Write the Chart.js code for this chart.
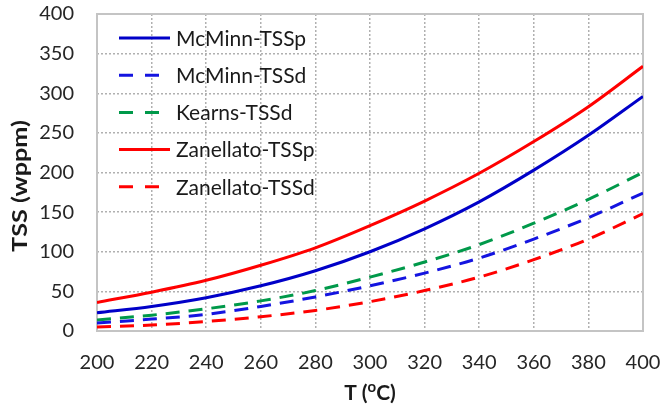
<!DOCTYPE html>
<html>
<head>
<meta charset="utf-8">
<script src="https://cdn.jsdelivr.net/npm/chart.js@4"></script>
<style>
  html, body { margin: 0; padding: 0; background: #fff; }
  #wrap { width: 662px; height: 412px; }
</style>
</head>
<body>
<div id="wrap"><canvas id="tss"></canvas></div>
<script>
// temperature grid (deg C) and hydrogen solubility curves (wppm)
const temps = [200, 220, 240, 260, 280, 300, 320, 340, 360, 380, 400];
const mcminnTSSp    = [23, 31, 42, 57, 76, 100, 129, 163, 203, 247, 296];
const mcminnTSSd    = [10, 15, 21, 31, 43, 57, 73, 92, 116, 143, 174];
const kearnsTSSd    = [14, 20, 28, 38, 51, 68, 87, 109, 136, 166, 200];
const zanellatoTSSp = [36, 49, 64, 83, 105, 133, 164, 199, 239, 283, 334];
const zanellatoTSSd = [5, 7.5, 12, 18, 26, 37, 51, 68, 90, 116, 148];

const xTicks = { min: 200, max: 400, step: 20 };
const yTicks = { min: 0, max: 400, step: 50 };

const FONT = 'Lato';
const DASH = [14, 9];

function pts(arr){ return temps.map((t,i)=>({ x: t, y: arr[i] })); }

function series(label, arr, color, dashed){
  return {
    label, data: pts(arr),
    borderColor: color, backgroundColor: color,
    borderWidth: 3, borderDash: dashed ? DASH : [],
    pointRadius: 0, cubicInterpolationMode: 'monotone', fill: false
  };
}

// frame round the plot, legend inside it and the two axis titles
const decor = {
  id: 'decor',
  beforeDatasetsDraw(chart){
    const a = chart.chartArea, ctx = chart.ctx;
    ctx.save();
    ctx.strokeStyle = '#c4c4c4';
    ctx.lineWidth = 2;
    ctx.strokeRect(a.left, a.top, a.right - a.left, a.bottom - a.top);
    ctx.restore();
  },
  afterDraw(chart){
    const a = chart.chartArea, ctx = chart.ctx;
    ctx.save();
    // legend
    ctx.font = '21px ' + FONT;
    ctx.textBaseline = 'middle';
    ctx.textAlign = 'left';
    chart.data.datasets.forEach((ds, i)=>{
      const y = 38 + i * 37.2;
      const dashed = ds.borderDash && ds.borderDash.length;
      ctx.beginPath();
      ctx.setLineDash(dashed ? [14, 12] : []);
      ctx.lineWidth = 3;
      ctx.strokeStyle = ds.borderColor;
      ctx.moveTo(119, y);
      ctx.lineTo(dashed ? 160 : 170, y);
      ctx.stroke();
      ctx.setLineDash([]);
      ctx.fillStyle = '#1a1a1a';
      ctx.fillText(ds.label, 176, y + 1);
    });
    // y title, stretched along its length
    ctx.fillStyle = '#1a1a1a';
    ctx.font = 'bold 21px ' + FONT;
    ctx.textAlign = 'center';
    ctx.save();
    ctx.translate(20, 186);
    ctx.rotate(-Math.PI / 2);
    ctx.scale(1.2, 1);
    ctx.fillText('TSS (wppm)', 0, 0);
    ctx.restore();
    // x title with superscript o
    const cx = (a.left + a.right) / 2, cy = 393;
    const p1 = 'T (', p3 = 'C)';
    ctx.font = 'bold 21px ' + FONT;
    const w1 = ctx.measureText(p1).width, w3 = ctx.measureText(p3).width;
    ctx.font = 'bold 15px ' + FONT;
    const w2 = ctx.measureText('o').width;
    let x = cx - (w1 + w2 + w3) / 2;
    ctx.textAlign = 'left';
    ctx.font = 'bold 21px ' + FONT;
    ctx.fillText(p1, x, cy); x += w1;
    ctx.font = 'bold 15px ' + FONT;
    ctx.fillText('o', x, cy - 6); x += w2;
    ctx.font = 'bold 21px ' + FONT;
    ctx.fillText(p3, x, cy);
    ctx.restore();
  }
};

const gridOpts = { color: '#b0b0b0', lineWidth: 1.5, drawTicks: false };

new Chart(document.getElementById('tss'), {
  type: 'line',
  data: {
    datasets: [
      series('McMinn-TSSp', mcminnTSSp, '#0000c8', false),
      series('McMinn-TSSd', mcminnTSSd, '#1414e0', true),
      series('Kearns-TSSd', kearnsTSSd, '#00994a', true),
      series('Zanellato-TSSp', zanellatoTSSp, '#ff0000', false),
      series('Zanellato-TSSd', zanellatoTSSd, '#ff0000', true)
    ]
  },
  options: {
    responsive: true,
    maintainAspectRatio: false,
    animation: false,
    layout: { padding: { left: 0, right: 19, top: 14, bottom: 0 } },
    plugins: { legend: { display: false }, tooltip: { enabled: false } },
    scales: {
      x: {
        type: 'linear', min: xTicks.min, max: xTicks.max,
        grid: gridOpts,
        border: { display: false, dash: [2, 2] },
        ticks: { stepSize: xTicks.step, padding: 20, color: '#262626', font: { family: FONT, size: 20 }, maxRotation: 0 },
        afterFit(s){ s.height = 81; s.paddingRight = 0; s.paddingLeft = 0; }
      },
      y: {
        min: yTicks.min, max: yTicks.max,
        grid: gridOpts,
        border: { display: false, dash: [2, 2] },
        ticks: { stepSize: yTicks.step, padding: 23, color: '#262626', font: { family: FONT, size: 20 } },
        afterFit(s){ s.width = 97; s.paddingTop = 0; s.paddingBottom = 0; }
      }
    }
  },
  plugins: [decor]
});
</script>
</body>
</html>
